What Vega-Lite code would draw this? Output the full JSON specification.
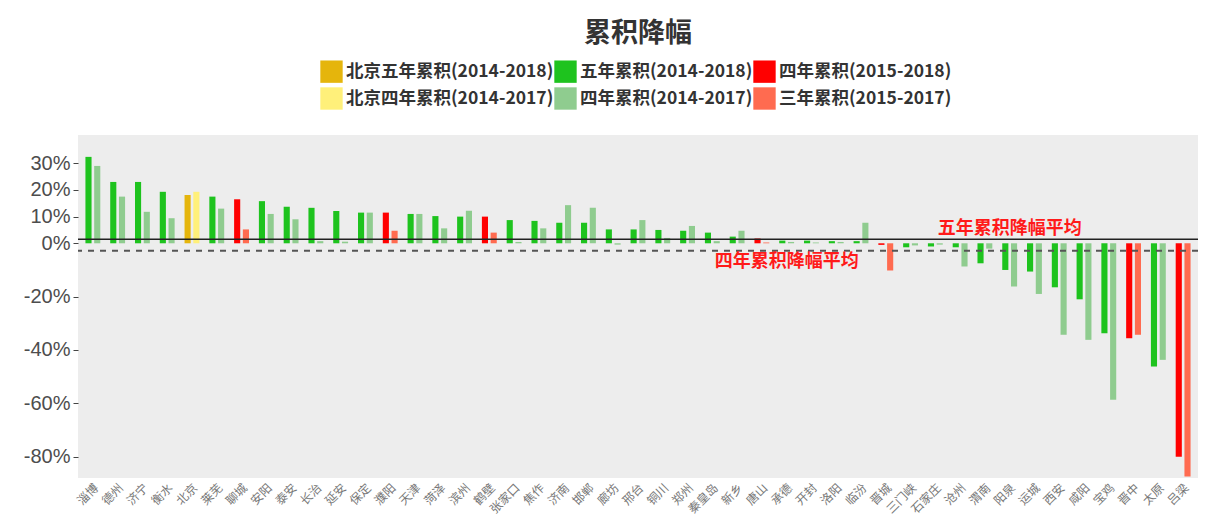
{
  "$schema": "https://vega.github.io/schema/vega-lite/v6.json",
  "width": 1120,
  "height": 343,
  "autosize": {"type": "none"},
  "padding": {"left": 78, "top": 135, "right": 9, "bottom": 52},
  "background": "white",
  "title": {"text": "累积降幅", "font": "Noto Sans CJK SC", "fontSize": 27, "fontWeight": "bold", "color": "#333333", "anchor": "middle", "offset": 12},
  "config": {"view": {"fill": "#ededed", "stroke": null}},
  "datasets": {
    "bars": [
      {"city": "淄博", "slot": "a", "series": "五年累积(2014-2018)", "value": 32.4},
      {"city": "淄博", "slot": "b", "series": "四年累积(2014-2017)", "value": 29.0},
      {"city": "德州", "slot": "a", "series": "五年累积(2014-2018)", "value": 23.0},
      {"city": "德州", "slot": "b", "series": "四年累积(2014-2017)", "value": 17.5},
      {"city": "济宁", "slot": "a", "series": "五年累积(2014-2018)", "value": 23.0},
      {"city": "济宁", "slot": "b", "series": "四年累积(2014-2017)", "value": 11.8},
      {"city": "衡水", "slot": "a", "series": "五年累积(2014-2018)", "value": 19.3},
      {"city": "衡水", "slot": "b", "series": "四年累积(2014-2017)", "value": 9.4},
      {"city": "北京", "slot": "a", "series": "北京五年累积(2014-2018)", "value": 18.1},
      {"city": "北京", "slot": "b", "series": "北京四年累积(2014-2017)", "value": 19.3},
      {"city": "莱芜", "slot": "a", "series": "五年累积(2014-2018)", "value": 17.5},
      {"city": "莱芜", "slot": "b", "series": "四年累积(2014-2017)", "value": 13.0},
      {"city": "聊城", "slot": "a", "series": "四年累积(2015-2018)", "value": 16.5},
      {"city": "聊城", "slot": "b", "series": "三年累积(2015-2017)", "value": 5.2},
      {"city": "安阳", "slot": "a", "series": "五年累积(2014-2018)", "value": 15.8},
      {"city": "安阳", "slot": "b", "series": "四年累积(2014-2017)", "value": 11.0},
      {"city": "泰安", "slot": "a", "series": "五年累积(2014-2018)", "value": 13.7},
      {"city": "泰安", "slot": "b", "series": "四年累积(2014-2017)", "value": 9.0},
      {"city": "长治", "slot": "a", "series": "五年累积(2014-2018)", "value": 13.3},
      {"city": "长治", "slot": "b", "series": "四年累积(2014-2017)", "value": 0.8},
      {"city": "延安", "slot": "a", "series": "五年累积(2014-2018)", "value": 12.1},
      {"city": "延安", "slot": "b", "series": "四年累积(2014-2017)", "value": 0.6},
      {"city": "保定", "slot": "a", "series": "五年累积(2014-2018)", "value": 11.5},
      {"city": "保定", "slot": "b", "series": "四年累积(2014-2017)", "value": 11.5},
      {"city": "濮阳", "slot": "a", "series": "四年累积(2015-2018)", "value": 11.5},
      {"city": "濮阳", "slot": "b", "series": "三年累积(2015-2017)", "value": 4.7},
      {"city": "天津", "slot": "a", "series": "五年累积(2014-2018)", "value": 11.0},
      {"city": "天津", "slot": "b", "series": "四年累积(2014-2017)", "value": 11.0},
      {"city": "菏泽", "slot": "a", "series": "五年累积(2014-2018)", "value": 10.2},
      {"city": "菏泽", "slot": "b", "series": "四年累积(2014-2017)", "value": 5.6},
      {"city": "滨州", "slot": "a", "series": "五年累积(2014-2018)", "value": 10.0},
      {"city": "滨州", "slot": "b", "series": "四年累积(2014-2017)", "value": 12.2},
      {"city": "鹤壁", "slot": "a", "series": "四年累积(2015-2018)", "value": 10.0},
      {"city": "鹤壁", "slot": "b", "series": "三年累积(2015-2017)", "value": 4.0},
      {"city": "张家口", "slot": "a", "series": "五年累积(2014-2018)", "value": 8.7},
      {"city": "张家口", "slot": "b", "series": "四年累积(2014-2017)", "value": 0.5},
      {"city": "焦作", "slot": "a", "series": "五年累积(2014-2018)", "value": 8.4},
      {"city": "焦作", "slot": "b", "series": "四年累积(2014-2017)", "value": 5.6},
      {"city": "济南", "slot": "a", "series": "五年累积(2014-2018)", "value": 7.7},
      {"city": "济南", "slot": "b", "series": "四年累积(2014-2017)", "value": 14.3},
      {"city": "邯郸", "slot": "a", "series": "五年累积(2014-2018)", "value": 7.7},
      {"city": "邯郸", "slot": "b", "series": "四年累积(2014-2017)", "value": 13.3},
      {"city": "廊坊", "slot": "a", "series": "五年累积(2014-2018)", "value": 5.2},
      {"city": "廊坊", "slot": "b", "series": "四年累积(2014-2017)", "value": -0.5},
      {"city": "邢台", "slot": "a", "series": "五年累积(2014-2018)", "value": 5.2},
      {"city": "邢台", "slot": "b", "series": "四年累积(2014-2017)", "value": 8.7},
      {"city": "铜川", "slot": "a", "series": "五年累积(2014-2018)", "value": 5.0},
      {"city": "铜川", "slot": "b", "series": "四年累积(2014-2017)", "value": 2.0},
      {"city": "郑州", "slot": "a", "series": "五年累积(2014-2018)", "value": 4.7},
      {"city": "郑州", "slot": "b", "series": "四年累积(2014-2017)", "value": 6.5},
      {"city": "秦皇岛", "slot": "a", "series": "五年累积(2014-2018)", "value": 4.0},
      {"city": "秦皇岛", "slot": "b", "series": "四年累积(2014-2017)", "value": 0.8},
      {"city": "新乡", "slot": "a", "series": "五年累积(2014-2018)", "value": 2.5},
      {"city": "新乡", "slot": "b", "series": "四年累积(2014-2017)", "value": 4.7},
      {"city": "唐山", "slot": "a", "series": "四年累积(2015-2018)", "value": 1.8},
      {"city": "唐山", "slot": "b", "series": "三年累积(2015-2017)", "value": 0.3},
      {"city": "承德", "slot": "a", "series": "五年累积(2014-2018)", "value": 1.0},
      {"city": "承德", "slot": "b", "series": "四年累积(2014-2017)", "value": 0.5},
      {"city": "开封", "slot": "a", "series": "五年累积(2014-2018)", "value": 1.0},
      {"city": "开封", "slot": "b", "series": "四年累积(2014-2017)", "value": 0.3},
      {"city": "洛阳", "slot": "a", "series": "五年累积(2014-2018)", "value": 0.8},
      {"city": "洛阳", "slot": "b", "series": "四年累积(2014-2017)", "value": 0.5},
      {"city": "临汾", "slot": "a", "series": "五年累积(2014-2018)", "value": 0.8},
      {"city": "临汾", "slot": "b", "series": "四年累积(2014-2017)", "value": 7.7},
      {"city": "晋城", "slot": "a", "series": "四年累积(2015-2018)", "value": -0.6},
      {"city": "晋城", "slot": "b", "series": "三年累积(2015-2017)", "value": -10.2},
      {"city": "三门峡", "slot": "a", "series": "五年累积(2014-2018)", "value": -1.5},
      {"city": "三门峡", "slot": "b", "series": "四年累积(2014-2017)", "value": -0.8},
      {"city": "石家庄", "slot": "a", "series": "五年累积(2014-2018)", "value": -1.2},
      {"city": "石家庄", "slot": "b", "series": "四年累积(2014-2017)", "value": -0.5},
      {"city": "沧州", "slot": "a", "series": "五年累积(2014-2018)", "value": -1.5},
      {"city": "沧州", "slot": "b", "series": "四年累积(2014-2017)", "value": -8.7},
      {"city": "渭南", "slot": "a", "series": "五年累积(2014-2018)", "value": -7.5},
      {"city": "渭南", "slot": "b", "series": "四年累积(2014-2017)", "value": -2.0},
      {"city": "阳泉", "slot": "a", "series": "五年累积(2014-2018)", "value": -10.0},
      {"city": "阳泉", "slot": "b", "series": "四年累积(2014-2017)", "value": -16.2},
      {"city": "运城", "slot": "a", "series": "五年累积(2014-2018)", "value": -10.6},
      {"city": "运城", "slot": "b", "series": "四年累积(2014-2017)", "value": -19.0},
      {"city": "西安", "slot": "a", "series": "五年累积(2014-2018)", "value": -16.5},
      {"city": "西安", "slot": "b", "series": "四年累积(2014-2017)", "value": -34.3},
      {"city": "咸阳", "slot": "a", "series": "五年累积(2014-2018)", "value": -21.0},
      {"city": "咸阳", "slot": "b", "series": "四年累积(2014-2017)", "value": -36.2},
      {"city": "宝鸡", "slot": "a", "series": "五年累积(2014-2018)", "value": -33.7},
      {"city": "宝鸡", "slot": "b", "series": "四年累积(2014-2017)", "value": -58.7},
      {"city": "晋中", "slot": "a", "series": "四年累积(2015-2018)", "value": -35.6},
      {"city": "晋中", "slot": "b", "series": "三年累积(2015-2017)", "value": -34.3},
      {"city": "太原", "slot": "a", "series": "五年累积(2014-2018)", "value": -46.2},
      {"city": "太原", "slot": "b", "series": "四年累积(2014-2017)", "value": -43.7},
      {"city": "吕梁", "slot": "a", "series": "四年累积(2015-2018)", "value": -80.0},
      {"city": "吕梁", "slot": "b", "series": "三年累积(2015-2017)", "value": -87.4}
    ],
    "avg": [
      {"kind": "five", "label": "五年累积降幅平均", "value": 1.5, "city": "阳泉"},
      {"kind": "four", "label": "四年累积降幅平均", "value": -2.8, "city": "承德"}
    ]
  },
  "layer": [
    {
      "data": {"name": "bars"},
      "mark": {"type": "bar"},
      "encoding": {
        "x": {
          "field": "city", "type": "nominal", "sort": null,
          "scale": {"paddingInner": 0.4, "paddingOuter": 0.3},
          "axis": {"title": null, "labelAngle": -45, "ticks": false, "domain": false, "labelFont": "Noto Sans CJK SC", "labelFontSize": 12, "labelColor": "#777777", "labelPadding": 4}
        },
        "xOffset": {"field": "slot", "type": "nominal", "sort": ["a", "b"], "scale": {"paddingInner": 0.3}},
        "y": {
          "field": "value", "type": "quantitative",
          "scale": {"domain": [-88, 40.6], "nice": false, "zero": true},
          "axis": {"title": null, "values": [30, 20, 10, 0, -20, -40, -60, -80], "labelExpr": "datum.value + '%'", "grid": false, "domain": false, "tickSize": 5, "tickColor": "#444444", "labelFont": "Liberation Sans", "labelFontSize": 20, "labelColor": "#4d4d4d", "labelPadding": 3}
        },
        "color": {
          "field": "series", "type": "nominal",
          "scale": {
            "domain": ["北京五年累积(2014-2018)", "五年累积(2014-2018)", "四年累积(2015-2018)", "北京四年累积(2014-2017)", "四年累积(2014-2017)", "三年累积(2015-2017)"],
            "range": ["#e5b50c", "#1ec31e", "#ff0000", "#fff07a", "#8fcc8f", "#ff6b50"]
          },
          "legend": {
            "title": null, "orient": "none", "legendX": 242, "legendY": -75, "direction": "horizontal", "columns": 3,
            "symbolType": "square", "symbolSize": 500, "symbolStrokeWidth": 0,
            "labelFont": "Noto Sans CJK SC", "labelFontSize": 17.5, "labelFontWeight": "bold", "labelColor": "#333333",
            "labelOffset": 3, "rowPadding": 4, "columnPadding": 0, "labelLimit": 300
          }
        }
      }
    },
    {
      "data": {"name": "avg"},
      "transform": [{"filter": "datum.kind == 'five'"}],
      "mark": {"type": "rule", "color": "#222222", "strokeWidth": 1.5},
      "encoding": {"y": {"field": "value", "type": "quantitative"}}
    },
    {
      "data": {"name": "avg"},
      "transform": [{"filter": "datum.kind == 'four'"}],
      "mark": {"type": "rule", "color": "#555555", "strokeWidth": 2, "strokeDash": [6, 6]},
      "encoding": {"y": {"field": "value", "type": "quantitative"}}
    },
    {
      "data": {"name": "avg"},
      "transform": [{"filter": "datum.kind == 'five'"}],
      "mark": {"type": "text", "color": "#ff1a1a", "font": "Noto Sans CJK SC", "fontSize": 18, "fontWeight": "bold", "baseline": "bottom", "dy": -1},
      "encoding": {
        "x": {"field": "city", "type": "nominal", "sort": null},
        "y": {"field": "value", "type": "quantitative"},
        "text": {"field": "label"}
      }
    },
    {
      "data": {"name": "avg"},
      "transform": [{"filter": "datum.kind == 'four'"}],
      "mark": {"type": "text", "color": "#ff1a1a", "font": "Noto Sans CJK SC", "fontSize": 18, "fontWeight": "bold", "baseline": "top", "dy": 2},
      "encoding": {
        "x": {"field": "city", "type": "nominal", "sort": null},
        "y": {"field": "value", "type": "quantitative"},
        "text": {"field": "label"}
      }
    }
  ]
}
